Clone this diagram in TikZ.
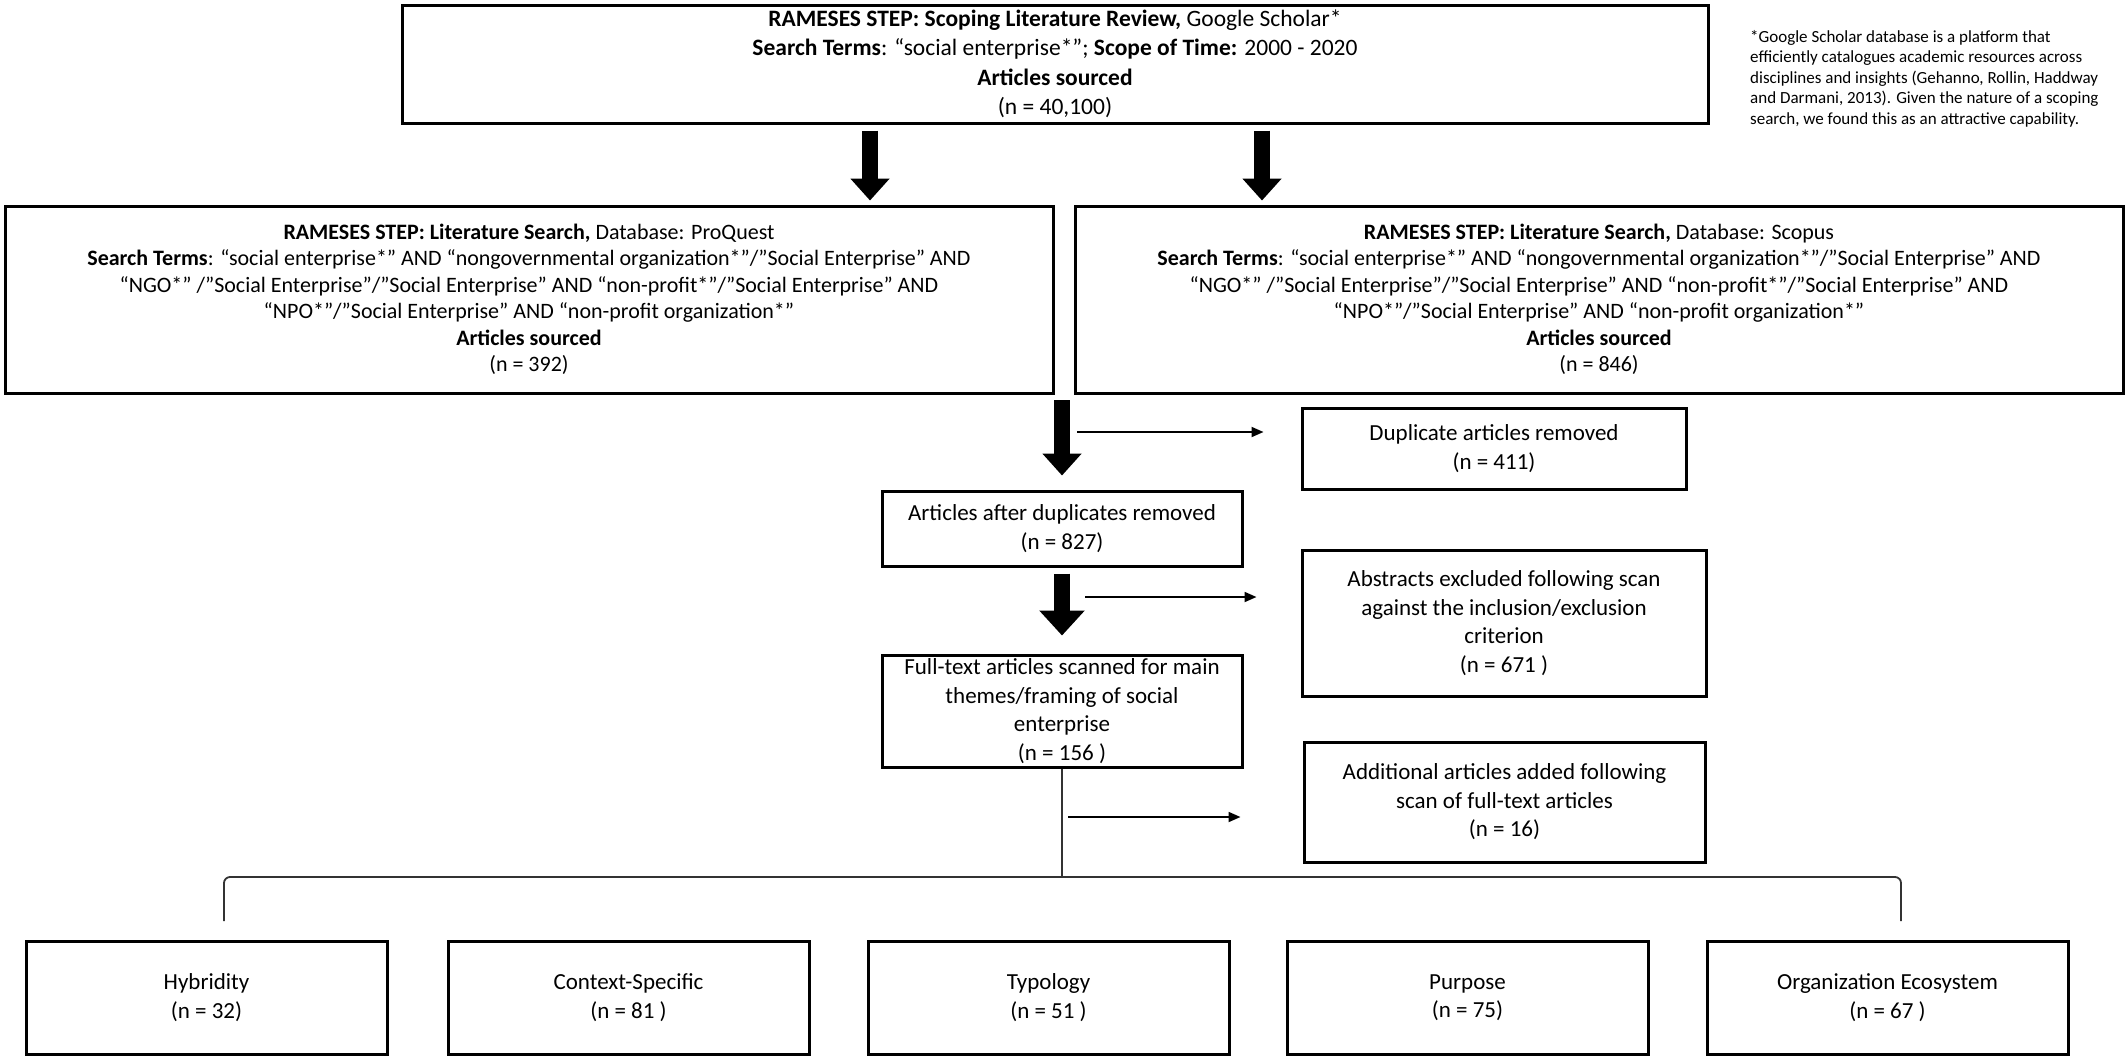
\documentclass[tikz,border=0pt]{standalone}
\usepackage{fontspec}
\setmainfont{Carlito}
\usetikzlibrary{arrows.meta,calc}
\begin{document}
\begin{tikzpicture}[x=1pt,y=-1pt,
  box/.style={draw=black, line width=3pt, align=center, inner sep=0pt, text=black},
  fa/.style={font=\fontsize{23.5}{29.5}\selectfont},
  fb/.style={font=\fontsize{22}{26.5}\selectfont},
  fc/.style={font=\fontsize{23}{28.5}\selectfont},
  thinline/.style={draw=black!80, line width=1.8pt},
  fatarrow/.style={line width=16pt, -{Triangle[width=38pt,length=22pt]}},
  fatarrowb/.style={line width=16pt, -{Triangle[width=44pt,length=25pt]}},
  thinarrow/.style={line width=1.8pt, -{Triangle[width=10pt,length=12pt]}}
]
\path[use as bounding box] (0,0) rectangle (2128,1058);

% top box
\node[box, fa, minimum width=1306pt, minimum height=118pt] (top) at (1055,64)
 {\textbf{RAMESES STEP: Scoping Literature Review,} Google Scholar*\\
  \textbf{Search Terms}: “social enterprise*”; \textbf{Scope of Time:} 2000 - 2020\\
  \textbf{Articles sourced}\\
  (n = 40,100)};

% note
\node[anchor=north west, align=left, inner sep=0pt, font=\fontsize{17}{20.5}\selectfont] (note) at (1750,30)
 {*Google Scholar database is a platform that\\
  efficiently catalogues academic resources across\\
  disciplines and insights (Gehanno, Rollin, Haddway\\
  and Darmani, 2013). Given the nature of a scoping\\
  search, we found this as an attractive capability.};

% left / right search boxes
\node[box, fb, minimum width=1048pt, minimum height=187pt] (left) at (529,299.5)
 {\textbf{RAMESES STEP: Literature Search,} Database: ProQuest\\
  \textbf{Search Terms}: “social enterprise*” AND “nongovernmental organization*”/”Social Enterprise” AND\\
  “NGO*” /”Social Enterprise”/”Social Enterprise” AND “non-profit*”/”Social Enterprise” AND\\
  “NPO*”/”Social Enterprise” AND “non-profit organization*”\\
  \textbf{Articles sourced}\\
  (n = 392)};
\node[box, fb, minimum width=1048pt, minimum height=187pt] (right) at (1599,299.5)
 {\textbf{RAMESES STEP: Literature Search,} Database: Scopus\\
  \textbf{Search Terms}: “social enterprise*” AND “nongovernmental organization*”/”Social Enterprise” AND\\
  “NGO*” /”Social Enterprise”/”Social Enterprise” AND “non-profit*”/”Social Enterprise” AND\\
  “NPO*”/”Social Enterprise” AND “non-profit organization*”\\
  \textbf{Articles sourced}\\
  (n = 846)};

% middle column
\node[box, fc, minimum width=384pt, minimum height=81pt] (dup) at (1494,448.5)
 {Duplicate articles removed\\(n = 411)};
\node[box, fc, minimum width=360pt, minimum height=75pt] (after) at (1062,528.5)
 {Articles after duplicates removed\\(n = 827)};
\node[box, fc, minimum width=404pt, minimum height=146pt] (abs) at (1504,623)
 {Abstracts excluded following scan\\against the inclusion/exclusion\\criterion\\(n = 671 )};
\node[box, fc, minimum width=360pt, minimum height=112pt] (full) at (1062,711)
 {Full-text articles scanned for main\\themes/framing of social\\enterprise\\(n = 156 )};
\node[box, fc, minimum width=401pt, minimum height=120pt] (add) at (1504.5,802)
 {Additional articles added following\\scan of full-text articles\\(n = 16)};

% bottom boxes
\node[box, fc, minimum width=361pt, minimum height=113pt] (hyb) at (206.5,997.5) {Hybridity\\(n = 32)};
\node[box, fc, minimum width=361pt, minimum height=113pt] (ctx) at (628.5,997.5) {Context-Specific\\(n = 81 )};
\node[box, fc, minimum width=361pt, minimum height=113pt] (typ) at (1048.5,997.5) {Typology\\(n = 51 )};
\node[box, fc, minimum width=361pt, minimum height=113pt] (pur) at (1467.5,997.5) {Purpose\\(n = 75)};
\node[box, fc, minimum width=361pt, minimum height=113pt] (org) at (1887.5,997.5) {Organization Ecosystem\\(n = 67 )};

% thick arrows
\coordinate (ax1) at (870,0);
\coordinate (ax2) at (1262,0);
\draw[fatarrow] ([yshift=-6pt]top.south -| ax1) -- ([yshift=4pt]left.north -| ax1);
\draw[fatarrow] ([yshift=-6pt]top.south -| ax2) -- ([yshift=4pt]right.north -| ax2);
\coordinate (mc) at (1062,0);
\draw[fatarrow] (mc |- 0,400) -- ([yshift=14pt]after.north);
\draw[fatarrowb] ([yshift=-6pt]after.south) -- ([yshift=18pt]full.north);

% thin side arrows
\coordinate (s1) at (1077,432);
\coordinate (s2) at (1085,597);
\coordinate (s3) at (1068,817);
\draw[thinarrow, shorten >=37pt] (s1) -- (s1 -| dup.west);
\draw[thinarrow, shorten >=44pt] (s2) -- (s2 -| abs.west);
\draw[thinarrow, shorten >=62pt] (s3) -- (s3 -| add.west);

% bracket
\coordinate (bj) at (full.south |- 0,877);
\coordinate (bl) at (224,921);
\coordinate (br) at (1901,921);
\draw[thinline] (full.south) -- (bj);
\draw[thinline, rounded corners=6pt] (bl) -- (bl |- bj) -- (br |- bj) -- (br);
\end{tikzpicture}
\end{document}
